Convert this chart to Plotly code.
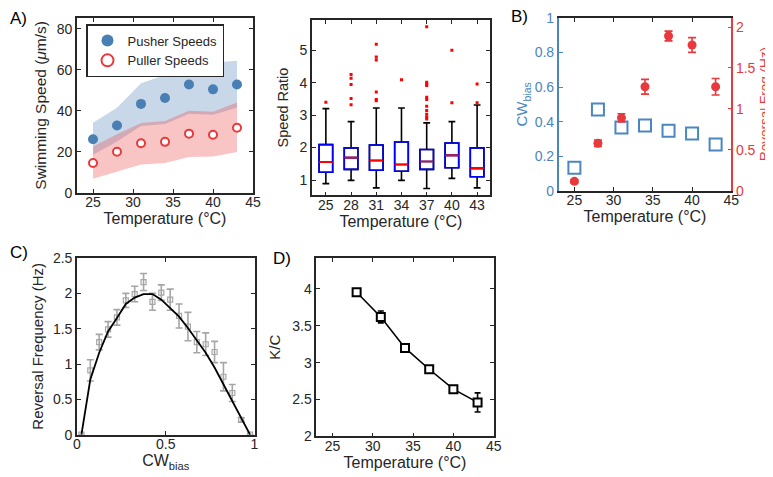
import plotly.graph_objects as go

# ---------------- data ----------------
temps = [25, 28, 31, 34, 37, 40, 43]
pusher_speed = [26.1, 32.8, 43.3, 46.2, 52.8, 50.4, 52.8]
puller_speed = [14.5, 20.0, 24.1, 24.8, 28.8, 28.3, 31.7]
pusher_upper = [34.1, 41.4, 53.4, 57.4, 62.5, 63.5, 64.4]
pusher_lower = [18.5, 25.0, 32.5, 33.5, 38.5, 38.0, 41.5]
puller_upper = [22.5, 28.5, 34.0, 35.0, 40.0, 39.5, 44.0]
puller_lower = [6.8, 10.1, 13.7, 14.5, 17.4, 17.7, 19.8]

ratio_cats = ["25", "28", "31", "34", "37", "40", "43"]
ratio_q1 = [1.24, 1.33, 1.30, 1.27, 1.33, 1.38, 1.10]
ratio_median = [1.55, 1.69, 1.60, 1.48, 1.57, 1.76, 1.36]
ratio_q3 = [2.09, 1.99, 2.08, 2.17, 1.94, 2.14, 1.99]
ratio_low = [0.89, 0.99, 0.76, 0.99, 0.74, 1.05, 0.76]
ratio_high = [3.20, 2.80, 3.22, 3.22, 2.76, 2.80, 3.31]
outlier_cat = ["25",
               "28", "28", "28", "28", "28",
               "31", "31", "31", "31", "31", "31",
               "34",
               "37", "37", "37", "37", "37", "37", "37", "37", "37", "37", "37",
               "40", "40",
               "43", "43"]
outlier_val = [3.40,
               4.25, 4.14, 3.94, 3.51, 3.32,
               5.18, 4.79, 4.70, 3.71, 3.48, 3.44,
               4.09,
               5.72, 4.01, 3.96, 3.91, 3.55, 3.48, 3.27, 3.14, 3.03, 2.94, 2.88,
               5.00, 3.38,
               3.96, 3.38]

cw_bias = [0.133, 0.47, 0.366, 0.378, 0.347, 0.331, 0.267]
rev_freq = [0.114, 0.58, 0.89, 1.27, 1.89, 1.78, 1.27]
rev_freq_err = [0.02, 0.04, 0.05, 0.09, 0.06, 0.09, 0.10]

cw_bins = [0.025, 0.075, 0.125, 0.175, 0.225, 0.275, 0.325, 0.375, 0.425, 0.475,
           0.525, 0.575, 0.625, 0.675, 0.725, 0.775, 0.825, 0.875, 0.925, 0.975]
rev_obs = [0.0, 0.91, 1.31, 1.49, 1.66, 1.90, 1.99, 2.16, 1.88, 2.01,
           1.91, 1.68, 1.53, 1.31, 1.28, 1.17, 0.82, 0.59, 0.21, 0.0]
rev_err = [0.0, 0.15, 0.11, 0.11, 0.11, 0.10, 0.11, 0.12, 0.12, 0.11,
           0.15, 0.17, 0.20, 0.15, 0.16, 0.15, 0.20, 0.12, 0.03, 0.0]
rev_fit = [0.0, 0.78, 1.16, 1.46, 1.65, 1.85, 1.94, 1.99, 1.99, 1.91,
           1.79, 1.67, 1.51, 1.33, 1.16, 0.95, 0.71, 0.47, 0.24, 0.0]

kc_temps = [28, 31, 34, 37, 40, 43]
kc = [3.955, 3.62, 3.20, 2.91, 2.64, 2.46]
kc_err = [0.03, 0.08, 0.04, 0.02, 0.04, 0.13]

# ---------------- style ----------------
W, H = 773, 477
FONT = "Liberation Sans, Arial, sans-serif"
AX = "#262626"
BLUE = "#4a7fb4"
RED = "#e8393c"
BBLUE = "#4a86bf"
GREY = "#a6a6a6"


def dx(a, b):
    return [a / W, b / W]


def dy(top, bottom):
    return [1 - bottom / H, 1 - top / H]


fig = go.Figure()

# ---- Panel A1: swimming speeds ----
fig.add_trace(go.Scatter(x=temps, y=pusher_lower, mode="lines", line=dict(width=0),
                         showlegend=False, hoverinfo="skip", xaxis="x", yaxis="y"))
fig.add_trace(go.Scatter(x=temps, y=pusher_upper, mode="lines", line=dict(width=0),
                         fill="tonexty", fillcolor="rgba(74,127,180,0.30)",
                         showlegend=False, hoverinfo="skip", xaxis="x", yaxis="y"))
fig.add_trace(go.Scatter(x=temps, y=puller_lower, mode="lines", line=dict(width=0),
                         showlegend=False, hoverinfo="skip", xaxis="x", yaxis="y"))
fig.add_trace(go.Scatter(x=temps, y=puller_upper, mode="lines", line=dict(width=0),
                         fill="tonexty", fillcolor="rgba(236,60,60,0.30)",
                         showlegend=False, hoverinfo="skip", xaxis="x", yaxis="y"))
fig.add_trace(go.Scatter(x=temps, y=pusher_speed, mode="markers", name="Pusher Speeds",
                         marker=dict(size=10, color=BLUE), xaxis="x", yaxis="y"))
fig.add_trace(go.Scatter(x=temps, y=puller_speed, mode="markers", name="Puller Speeds",
                         marker=dict(size=8, color="white", line=dict(color=RED, width=2)),
                         xaxis="x", yaxis="y"))

# ---- Panel A2: speed ratio boxplot ----
fig.add_trace(go.Box(x=ratio_cats, q1=ratio_q1, median=ratio_median, q3=ratio_q3,
                     lowerfence=ratio_low, upperfence=ratio_high,
                     line=dict(color="black", width=1.6), fillcolor="white",
                     width=0.54, whiskerwidth=0.5, showlegend=False,
                     xaxis="x2", yaxis="y2"))
fig.add_trace(go.Box(x=ratio_cats, q1=ratio_q1, median=ratio_median, q3=ratio_q3,
                     lowerfence=ratio_q1, upperfence=ratio_q3,
                     line=dict(color="#0000ff", width=1.6), fillcolor="rgba(0,0,0,0)",
                     width=0.54, whiskerwidth=1, showlegend=False,
                     xaxis="x2", yaxis="y2"))
fig.add_trace(go.Box(x=ratio_cats, q1=ratio_median, median=ratio_median, q3=ratio_median,
                     lowerfence=ratio_median, upperfence=ratio_median,
                     line=dict(color="#ff0000", width=1.6), fillcolor="rgba(0,0,0,0)",
                     width=0.54, whiskerwidth=1, showlegend=False,
                     xaxis="x2", yaxis="y2"))
fig.add_trace(go.Scatter(x=outlier_cat, y=outlier_val, mode="markers",
                         marker=dict(size=3, color="#ff0000", symbol="square"),
                         showlegend=False, xaxis="x2", yaxis="y2"))

# ---- Panel B: CW bias and reversal freq ----
fig.add_trace(go.Scatter(x=temps, y=cw_bias, mode="markers",
                         marker=dict(symbol="square-open", size=12, color=BBLUE,
                                     line=dict(width=2, color=BBLUE)),
                         showlegend=False, xaxis="x3", yaxis="y3"))
fig.add_trace(go.Scatter(x=temps, y=rev_freq, mode="markers",
                         marker=dict(size=9, color=RED),
                         error_y=dict(type="data", array=rev_freq_err, color=RED,
                                      thickness=1.6, width=4),
                         showlegend=False, xaxis="x3", yaxis="y4"))

# ---- Panel C: reversal frequency vs CW bias ----
fig.add_trace(go.Scatter(x=cw_bins, y=rev_obs, mode="markers",
                         marker=dict(symbol="square-open", size=5, color=GREY,
                                     line=dict(width=1.2, color=GREY)),
                         error_y=dict(type="data", array=rev_err, color=GREY,
                                      thickness=1.6, width=3.5),
                         showlegend=False, xaxis="x5", yaxis="y5"))
fig.add_trace(go.Scatter(x=cw_bins, y=rev_fit, mode="lines",
                         line=dict(color="black", width=1.8),
                         showlegend=False, xaxis="x5", yaxis="y5"))

# ---- Panel D: K/C ----
fig.add_trace(go.Scatter(x=kc_temps, y=kc, mode="lines+markers",
                         line=dict(color="black", width=1.6),
                         marker=dict(symbol="square", size=8, color="white",
                                     line=dict(width=2, color="black")),
                         error_y=dict(type="data", array=kc_err, color="black",
                                      thickness=1.6, width=3),
                         showlegend=False, xaxis="x6", yaxis="y6"))


def tfont(size=16, color=AX):
    return dict(family=FONT, size=size, color=color)


def axis(domain, rng, anchor, color=AX, mirror="ticks", **kw):
    d = dict(domain=domain, range=rng, anchor=anchor, showline=True, linecolor=color,
             linewidth=1.6, mirror=mirror, ticks="inside", ticklen=4, tickwidth=1.2,
             tickcolor=color, showgrid=False, zeroline=False, automargin=False,
             tickfont=dict(family=FONT, size=14, color=color))
    d.update(kw)
    return d


A1x, A1y = dx(69, 245), dy(10, 184.7)
A2x, A2y = dx(304, 481.7), dy(11.7, 187.3)
Bx, By = dx(550.7, 723.3), dy(10, 182.7)
Cx, Cy = dx(69, 246.5), dy(250, 426.7)
Dx, Dy = dx(308.3, 485.7), dy(250, 428.3)
XSO = -4  # x tick label standoff

fig.update_layout(
    width=W, height=H, margin=dict(l=0, r=0, t=0, b=0),
    paper_bgcolor="white", plot_bgcolor="white",
    font=dict(family=FONT, color=AX),
    boxmode="overlay",
    xaxis=axis(A1x, [23, 45], "y", tick0=25, dtick=5, ticklabelstandoff=XSO,
               title=dict(text="Temperature (°C)", font=tfont(16), standoff=4)),
    yaxis=axis(A1y, [0, 85.2], "x", dtick=20,
               title=dict(text="Swimming Speed (<i>μ</i>m/s)", font=tfont(15.5), standoff=6)),
    xaxis2=axis(A2x, [-0.55, 6.5], "y2", type="category", ticklabelstandoff=XSO,
                title=dict(text="Temperature (°C)", font=tfont(16), standoff=4)),
    yaxis2=axis(A2y, [0.53, 5.94], "x2", tickvals=[1, 2, 3, 4, 5],
                title=dict(text="Speed Ratio", font=tfont(14.5), standoff=8)),
    xaxis3=axis(Bx, [23, 45], "y3", tick0=25, dtick=5, ticklabelstandoff=XSO,
                title=dict(text="Temperature (°C)", font=tfont(16), standoff=4)),
    yaxis3=axis(By, [0, 1], "x3", color=BBLUE, mirror=False, dtick=0.2,
                title=dict(text="CW<sub>bias</sub>", font=tfont(15, BBLUE), standoff=3)),
    yaxis4=axis(By, [0, 2.11], "x3", color=RED, mirror=False, dtick=0.5,
                overlaying="y3", side="right"),
    xaxis5=axis(Cx, [0, 1], "y5", dtick=0.5, ticklabelstandoff=XSO,
                title=dict(text="CW<sub>bias</sub>", font=tfont(16), standoff=4)),
    yaxis5=axis(Cy, [0, 2.5], "x5", dtick=0.5,
                title=dict(text="Reversal Frequency (Hz)", font=tfont(15), standoff=6)),
    xaxis6=axis(Dx, [23, 45], "y6", tick0=25, dtick=5, ticklabelstandoff=XSO,
                title=dict(text="Temperature (°C)", font=tfont(16), standoff=4)),
    yaxis6=axis(Dy, [2, 4.42], "x6", dtick=0.5,
                title=dict(text="K/C", font=tfont(15), standoff=8)),
    legend=dict(x=78 / W, y=1 - 16 / H, xanchor="left", yanchor="top",
                bgcolor="white", bordercolor=AX, borderwidth=1.5,
                font=dict(family=FONT, size=13, color=AX),
                itemsizing="constant", traceorder="normal", tracegroupgap=0),
)

# right-hand y title of panel B
fig.add_annotation(text="Reversal Freq (Hz)", x=757 / W, y=1 - 96 / H,
                   xref="paper", yref="paper", xanchor="center", yanchor="middle",
                   textangle=-90, showarrow=False, font=tfont(13.5, RED))

labels = [("A)", 0, 10), ("B)", 501, 9), ("C)", 0, 245), ("D)", 263, 250)]
for txt, px, py in labels:
    fig.add_annotation(text=txt, x=px / W, y=1 - py / H, xref="paper", yref="paper",
                       xanchor="left", yanchor="middle", showarrow=False,
                       font=dict(family=FONT, size=17, color="black"))

fig.write_html("out.html")
